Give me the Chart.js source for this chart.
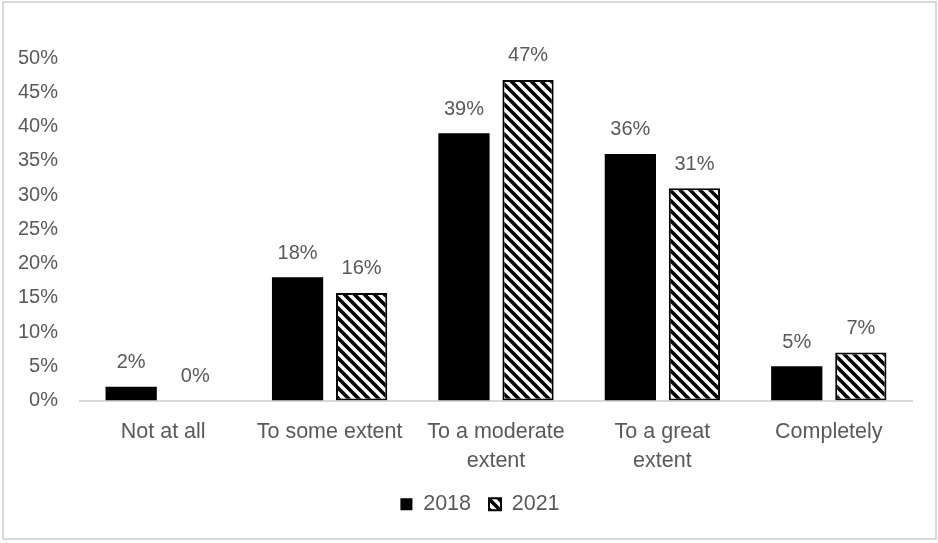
<!DOCTYPE html>
<html>
<head>
<meta charset="utf-8">
<script src="https://cdn.jsdelivr.net/npm/chart.js@4.4.0/dist/chart.umd.min.js"></script>
<style>
html, body { margin: 0; padding: 0; background: #fff; }
#caja { position: relative; width: 938px; height: 543px; }
</style>
</head>
<body>
<div id="caja"><canvas id="grafica"></canvas></div>
<script>
const categorias = ['Not at all', 'To some extent', ['To a moderate', 'extent'], ['To a great', 'extent'], 'Completely'];
const series = ['2018', '2021'];
const valores2018 = [2, 18, 39, 36, 5];
const valores2021 = [0, 15.7, 46.8, 31, 7];
const ticksY = [0, 5, 10, 15, 20, 25, 30, 35, 40, 45, 50];

const fuente = '"Liberation Sans", Arial, sans-serif';
const gris = '#595959';

// trama de rayas diagonales para 2021
function crearTrama() {
    const c = document.createElement('canvas');
    c.width = 10; c.height = 10;
    const g = c.getContext('2d');
    g.fillStyle = '#fff';
    g.fillRect(0, 0, 10, 10);
    g.strokeStyle = '#000';
    g.lineWidth = 3.6;
    g.beginPath();
    for (const k of [-10, 0, 10]) {
        g.moveTo(k - 2, -2);
        g.lineTo(k + 12, 12);
    }
    g.stroke();
    return g.createPattern(c, 'repeat');
}

const marco = {
    id: 'marco',
    beforeDraw(chart) {
        const ctx = chart.ctx;
        ctx.save();
        ctx.fillStyle = '#fff';
        ctx.fillRect(0, 0, chart.width, chart.height);
        ctx.strokeStyle = '#d9d9d9';
        ctx.lineWidth = 2;
        ctx.strokeRect(3, 2, 933, 537);
        ctx.restore();
    },
    // centrar la leyenda en la figura, no en el area del grafico
    afterLayout(chart) {
        chart.legend.left += 24;
        chart.legend.right += 24;
    }
};

const etiquetas = {
    id: 'etiquetas',
    afterDatasetsDraw(chart) {
        const ctx = chart.ctx;
        ctx.save();
        ctx.font = '20px ' + fuente;
        ctx.fillStyle = gris;
        ctx.textAlign = 'center';
        ctx.textBaseline = 'middle';
        chart.data.datasets.forEach((ds, i) => {
            chart.getDatasetMeta(i).data.forEach((bar, j) => {
                ctx.fillText(Math.round(ds.data[j]) + '%', bar.x, bar.y - 24);
            });
        });
        ctx.restore();
    }
};

const ctx = document.getElementById('grafica');
new Chart(ctx, {
    type: 'bar',
    data: {
        labels: categorias,
        datasets: [{
            label: series[0],
            data: valores2018,
            backgroundColor: '#000',
            borderColor: '#000',
            borderWidth: 0
        }, {
            label: series[1],
            data: valores2021,
            backgroundColor: crearTrama(),
            borderColor: '#000',
            borderWidth: 2,
            borderSkipped: false
        }]
    },
    options: {
        responsive: true,
        maintainAspectRatio: false,
        animation: false,
        categoryPercentage: 0.77,
        barPercentage: 0.8,
        layout: { padding: { top: 58, right: 26, left: 0, bottom: 18 } },
        plugins: {
            legend: {
                position: 'bottom',
                labels: {
                    color: gris,
                    font: { family: fuente, size: 21.5 },
                    boxWidth: 12,
                    boxHeight: 12,
                    padding: 18
                }
            },
            tooltip: { enabled: false }
        },
        scales: {
            x: {
                afterFit(scale) { scale.height = 75; },
                grid: { display: false, drawTicks: false },
                border: { display: true, color: '#d9d9d9', width: 2 },
                ticks: {
                    color: gris,
                    font: { family: fuente, size: 21.5, lineHeight: '29px' },
                    padding: 17,
                    maxRotation: 0,
                    autoSkip: false
                }
            },
            y: {
                min: 0,
                max: 50,
                afterBuildTicks(scale) {
                    scale.ticks = ticksY.map(v => ({ value: v }));
                },
                afterFit(scale) { scale.width = 80; },
                grid: { display: false, drawTicks: false },
                border: { display: false },
                ticks: {
                    color: gris,
                    font: { family: fuente, size: 20 },
                    padding: 22,
                    callback: v => v + '%'
                }
            }
        }
    },
    plugins: [marco, etiquetas]
});
</script>
</body>
</html>
